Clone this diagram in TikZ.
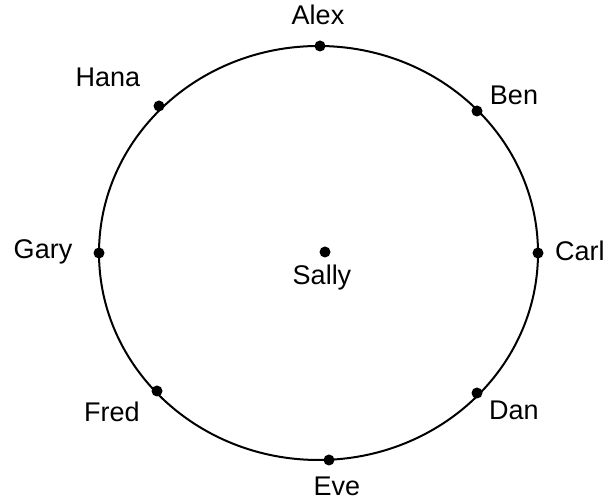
\documentclass[tikz,border=0pt]{standalone}
\usepackage{fontspec}
\setmainfont{Liberation Sans}
\begin{document}
\begin{tikzpicture}[x=1pt,y=-1pt,
  dot/.style={circle,fill=black,inner sep=0pt,minimum size=11pt},
  lbl/.style={font=\fontsize{27}{29}\selectfont,inner sep=0pt,anchor=base}]
\useasboundingbox (0,0) rectangle (614,502);
\coordinate (ctr) at (318.5,253);
\draw[line width=2pt] (ctr) ellipse [x radius=219.5pt, y radius=207pt];
\node[dot] (alex) at (320,46) {};
\node[dot] (hana) at (159,106) {};
\node[dot] (ben) at (477,111) {};
\node[dot] (gary) at (99,253) {};
\node[dot] (carl) at (538,253) {};
\node[dot] (sally) at (325,252) {};
\node[dot] (fred) at (157,391) {};
\node[dot] (dan) at (477,393) {};
\node[dot] (eve) at (329,460) {};
\node[lbl] (alexl) at (318,25) {Alex};
\node[lbl] (hanal) at (108,87) {Hana};
\node[lbl] (benl) at (514,105) {Ben};
\node[lbl] (garyl) at (43,259) {Gary};
\node[lbl,anchor=base west] (carll) at (555,261) {Carl};
\node[lbl] (sallyl) at (322,285) {Sally};
\node[lbl] (fredl) at (112,422) {Fred};
\node[lbl] (danl) at (514,420) {Dan};
\node[lbl] (evel) at (337,496) {Eve};
\end{tikzpicture}
\end{document}
